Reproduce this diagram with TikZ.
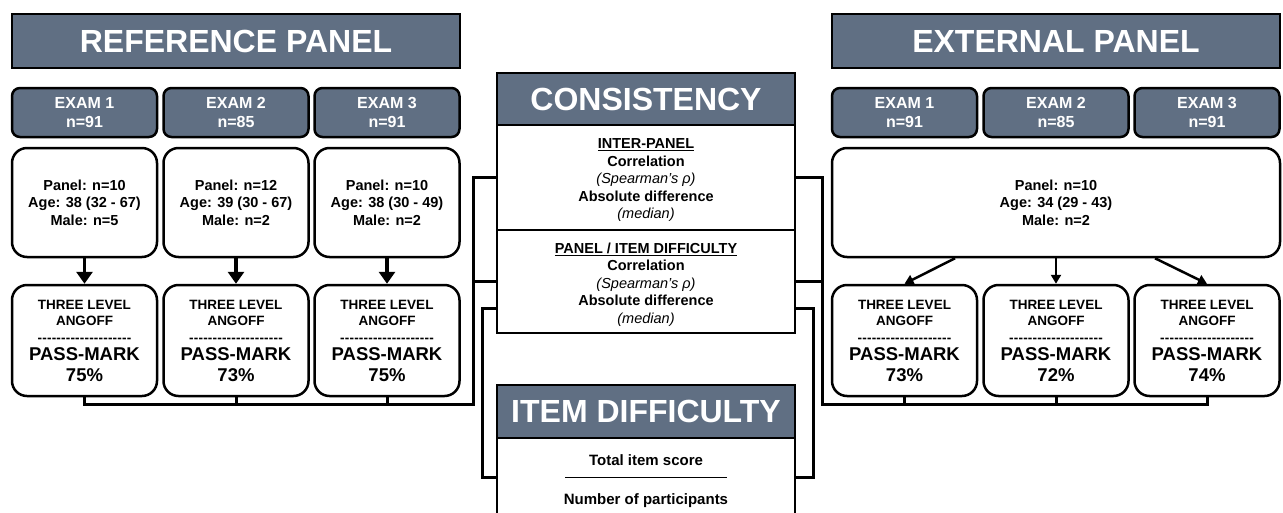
\documentclass[tikz,border=0pt]{standalone}
\usepackage{fontspec}
\setmainfont{Liberation Sans}
\usetikzlibrary{arrows.meta}
\definecolor{slate}{RGB}{96,111,131}
\newcommand{\dashrow}{\hbox to 94pt{\xleaders\hbox{-}\hfill}}
\newcommand{\pmbox}[1]{THREE LEVEL\\ANGOFF\\\dashrow\\[2pt]{\fontsize{18.5}{20}\selectfont PASS-MARK}\\[4pt]{\fontsize{18.5}{20}\selectfont #1\%}}
\newcommand{\stats}[1]{\textbf{\underline{#1}}\\\textbf{Correlation}\\\textit{(Spearman's ρ)}\\\textbf{Absolute difference}\\\textit{(median)}}

\tikzset{
  head/.style={draw=black, fill=slate, line width=2.5pt, text=white, font=\fontsize{32}{38}\selectfont\bfseries, minimum height=54pt, inner sep=0pt},
  exam/.style={draw, fill=slate, rounded corners=8pt, line width=2.5pt, text=white, align=center, font=\fontsize{16}{19}\selectfont\bfseries, minimum width=145pt, minimum height=49pt, inner sep=0pt},
  info/.style={draw, rounded corners=15pt, line width=2.5pt, align=center, font=\fontsize{14.5}{17.5}\selectfont\bfseries, minimum height=109pt, inner sep=0pt},
  angoff/.style={draw, rounded corners=15pt, line width=2.5pt, align=center, font=\fontsize{13.5}{16.5}\selectfont\bfseries, minimum width=145pt, minimum height=111pt, inner sep=0pt},
  body/.style={draw, line width=2.5pt, minimum width=298pt, inner sep=0pt},
  btext/.style={align=center, font=\fontsize{14.5}{17.5}\selectfont, inner sep=0pt, yshift=-3pt},
  link/.style={line width=3pt},
  fat/.style={line width=3.5pt, -{Triangle[length=12pt,width=16pt]}},
  slim/.style={line width=2.5pt, -{Triangle[length=9pt,width=10pt]}}
}

\begin{document}
\begin{tikzpicture}[x=1pt,y=-1pt]
\clip (0,0) rectangle (1283,512);
% reference panel
\node[head, minimum width=448pt] (rp) at (236,41) {REFERENCE PANEL};
\node[exam] (lx1) at (84.5,112.5) {EXAM 1\\n=91};
\node[exam] (lx2) at (236,112.5) {EXAM 2\\n=85};
\node[exam] (lx3) at (387,112.5) {EXAM 3\\n=91};
\node[info, minimum width=145pt] (li1) at (84.5,202.5) {Panel: n=10\\Age: 38 (32 - 67)\\Male: n=5};
\node[info, minimum width=145pt] (li2) at (236,202.5) {Panel: n=12\\Age: 39 (30 - 67)\\Male: n=2};
\node[info, minimum width=145pt] (li3) at (387,202.5) {Panel: n=10\\Age: 38 (30 - 49)\\Male: n=2};
\node[angoff] (la1) at (84.5,340.5) {\pmbox{75}};
\node[angoff] (la2) at (236,340.5) {\pmbox{73}};
\node[angoff] (la3) at (387,340.5) {\pmbox{75}};
\draw[fat] (li1) -- (la1);
\draw[fat] (li2) -- (la2);
\draw[fat] (li3) -- (la3);

% external panel
\node[head, minimum width=448pt] (xp) at (1056,41) {EXTERNAL PANEL};
\node[exam] (ex1) at (904.5,112.5) {EXAM 1\\n=91};
\node[exam] (ex2) at (1056,112.5) {EXAM 2\\n=85};
\node[exam] (ex3) at (1207,112.5) {EXAM 3\\n=91};
\node[info, minimum width=448pt] (ei) at (1056,202.5) {Panel: n=10\\Age: 34 (29 - 43)\\Male: n=2};
\node[angoff] (ea1) at (904.5,340.5) {\pmbox{73}};
\node[angoff] (ea2) at (1056,340.5) {\pmbox{72}};
\node[angoff] (ea3) at (1207,340.5) {\pmbox{74}};
\draw[slim] ([xshift=-101pt]ei.south) -- (ea1.north);
\draw[slim] (ei) -- (ea2);
\draw[slim] ([xshift=99pt]ei.south) -- (ea3.north);

% consistency
\node[head, minimum width=298pt, minimum height=52pt] (ch) at (646,99) {CONSISTENCY};
\node[body, minimum height=105pt, label={[btext]center:{\stats{INTER-PANEL}}}] (ip) at (646,177.5) {};
\node[body, minimum height=103pt, label={[btext]center:{\stats{PANEL / ITEM DIFFICULTY}}}] (pi) at (646,281.5) {};

% item difficulty
\node[head, minimum width=298pt, minimum height=53pt] (dh) at (646,411.5) {ITEM DIFFICULTY};
\node[body, minimum height=78pt, label={[btext, yshift=-1pt, font=\fontsize{15}{17.5}\selectfont\bfseries]center:{Total item score\\[-1pt]\rule[4pt]{162pt}{1.2pt}\\[5pt]Number of participants}}] (db) at (646,477) {};

% connectors left
\coordinate (lb) at (473,404);
\draw[link] (la1.south) |- (lb) |- (ip.west);
\draw[link] (la2.south) -- (la2.south |- lb);
\draw[link] (la3.south) -- (la3.south |- lb);
\draw[link] (lb |- pi.west) -- (pi.west);
\coordinate (pin) at (497,308);
\draw[link] (pin) -- ++(-15,0) |- (db.west);

% connectors right
\coordinate (rb) at (822,404);
\draw[link] (ea3.south) |- (rb) |- (ip.east);
\draw[link] (ea1.south) -- (ea1.south |- rb);
\draw[link] (ea2.south) -- (ea2.south |- rb);
\draw[link] (rb |- pi.east) -- (pi.east);
\coordinate (pout) at (795,308);
\draw[link] (pout) -- ++(18,0) |- (db.east);
\end{tikzpicture}
\end{document}
